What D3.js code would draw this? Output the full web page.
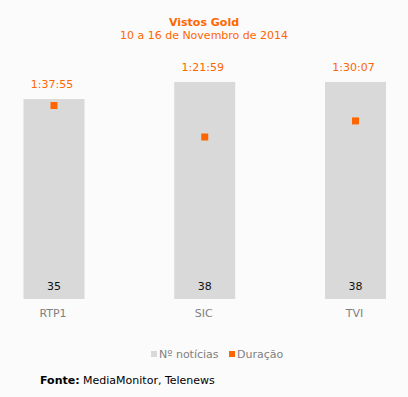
<!DOCTYPE html>
<html>
<head>
<meta charset="utf-8">
<script src="https://cdn.jsdelivr.net/npm/d3@7"></script>
<style>
  html, body { margin: 0; padding: 0; background: #fbfbfb; }
  svg { display: block; font-family: "DejaVu Sans", Verdana, sans-serif; }
</style>
</head>
<body>
<svg id="chart"></svg>
<script>
const canais = ["RTP1", "SIC", "TVI"];
const noticias = [35, 38, 38];
const duracao = ["1:37:55", "1:21:59", "1:30:07"];

const W = 408, H = 397;
const laranja = "#ff6600";
const cinza = "#d9d9d9";

function segundos(s) {
  var p = s.split(":").map(Number);
  return p[0] * 3600 + p[1] * 60 + p[2];
}

const svg = d3.select("#chart").attr("width", W).attr("height", H);

// titles
svg.append("text").attr("x", 204).attr("y", 26).attr("text-anchor", "middle")
  .attr("fill", laranja).style("font-size", "11px").style("font-weight", "bold")
  .text("Vistos Gold");
svg.append("text").attr("x", 204).attr("y", 39).attr("text-anchor", "middle")
  .attr("fill", laranja).style("font-size", "11px")
  .text("10 a 16 de Novembro de 2014");

const x = d3.scalePoint().domain(canais).range([54, 355.5]);
const yN = d3.scaleLinear().domain([0, 40]).range([299, 299 - 228.5]);
const yD = d3.scaleLinear().domain([0, 6000]).range([299, 299 - 197.6]);
const bw = 61;

// bars
svg.selectAll("rect.bar").data(canais).enter().append("rect")
  .attr("class", "bar")
  .attr("x", d => x(d) - bw / 2)
  .attr("width", bw)
  .attr("y", (d, i) => yN(noticias[i]))
  .attr("height", (d, i) => yN(0) - yN(noticias[i]))
  .attr("fill", cinza);

// count labels
svg.selectAll("text.n").data(canais).enter().append("text")
  .attr("x", d => x(d))
  .attr("y", 290)
  .attr("text-anchor", "middle")
  .attr("fill", "#111")
  .style("font-size", "11px")
  .text((d, i) => noticias[i]);

// duration labels above bars
svg.selectAll("text.d").data(canais).enter().append("text")
  .attr("x", d => x(d) - 2)
  .attr("y", (d, i) => yN(noticias[i]) - 11)
  .attr("text-anchor", "middle")
  .attr("fill", laranja)
  .style("font-size", "11px")
  .text((d, i) => duracao[i]);

// duration markers
svg.selectAll("rect.m").data(canais).enter().append("rect")
  .attr("x", d => x(d) - 3.5)
  .attr("y", (d, i) => yD(segundos(duracao[i])) - 3.5)
  .attr("width", 7)
  .attr("height", 7)
  .attr("fill", laranja);

// category axis labels
svg.selectAll("text.c").data(canais).enter().append("text")
  .attr("x", d => x(d) - 1)
  .attr("y", 317)
  .attr("text-anchor", "middle")
  .attr("fill", "#808080")
  .style("font-size", "11px")
  .text(d => d);

// legend
const leg = [["Nº notícias", cinza, 151], ["Duração", laranja, 229]];
leg.forEach(function (l) {
  svg.append("rect").attr("x", l[2]).attr("y", 351).attr("width", 6).attr("height", 6).attr("fill", l[1]);
  svg.append("text").attr("x", l[2] + 8).attr("y", 357.5)
    .attr("fill", "#808080").style("font-size", "11px").text(l[0]);
});

// source
const fonte = svg.append("text").attr("x", 40).attr("y", 384)
  .attr("fill", "#000").style("font-size", "11px");
fonte.append("tspan").style("font-weight", "bold").text("Fonte:");
fonte.append("tspan").text(" MediaMonitor, Telenews");
</script>
</body>
</html>
